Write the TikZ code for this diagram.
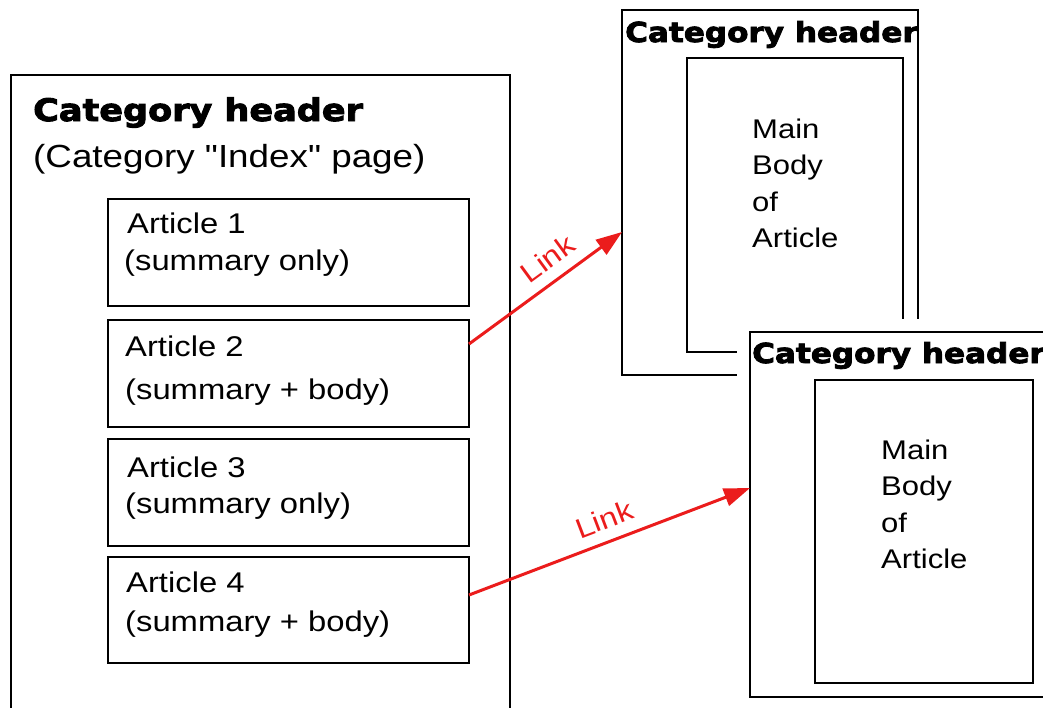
\documentclass[tikz,border=0pt]{standalone}
\usepackage{fontspec}
\setmainfont{Liberation Sans}[FakeStretch=1.15, Ligatures=TeXOff]
\newfontfamily\headfont{DejaVu Sans Bold}[FakeStretch=1.13,FakeBold=3]
\usetikzlibrary{arrows.meta}
\definecolor{linkred}{RGB}{235,28,28}

\begin{document}
\begin{tikzpicture}[x=1pt,y=-1pt,
	box/.style={draw, line width=2.8pt, anchor=north west, inner sep=0pt, outer sep=0pt},
	hdr/.style={anchor=base west, inner sep=0pt, font=\headfont\fontsize{27.5}{33}\selectfont},
	txt/.style={anchor=base west, inner sep=0pt, font=\fontsize{28.5}{34}\selectfont},
	bodytxt/.style={anchor=north west, inner sep=0pt, align=left, font=\fontsize{27}{36.5}\selectfont},
	link/.style={linkred, line width=3pt, -{Triangle[length=26pt,width=18pt]}},
	linklabel/.style={linkred, sloped, above, inner sep=11pt, font=\fontsize{28}{32}\selectfont}]
	\clip (0,0) rectangle (1043,707);
	% index page
	\node[box, minimum width=499pt, minimum height=660pt] (main) at (11,75) {};
	\node[hdr, font=\headfont\fontsize{31}{37}\selectfont] (mainhdr) at (33,121) {Category header};
	\node[txt, font=\fontsize{32}{38}\selectfont] (subhdr) at (33,167) {(Category "Index" page)};
	\node[box, minimum width=361pt, minimum height=107pt] (art1) at (108,199) {};
	\node[box, minimum width=361pt, minimum height=107pt] (art2) at (108,320) {};
	\node[box, minimum width=361pt, minimum height=107pt] (art3) at (108,439) {};
	\node[box, minimum width=361pt, minimum height=106pt] (art4) at (108,557) {};
	\node[txt] (art1a) at (127,233) {Article 1};
	\node[txt] (art1b) at (124,270) {(summary only)};
	\node[txt] (art2a) at (125,356) {Article 2};
	\node[txt] (art2b) at (125,399) {(summary + body)};
	\node[txt] (art3a) at (127,477) {Article 3};
	\node[txt] (art3b) at (125,513) {(summary only)};
	\node[txt] (art4a) at (126,592) {Article 4};
	\node[txt] (art4b) at (125,631) {(summary + body)};
	% article pages
	\node[box, minimum width=296pt, minimum height=365pt] (page1) at (622,10) {};
	\node[hdr] (page1hdr) at (625,42) {Category header};
	\node[box, minimum width=216pt, minimum height=294pt] (body1) at (687,58) {};
	\node[bodytxt] (body1txt) at (752,118.7) {Main\\Body\\of\\Article};
	\node[box, minimum width=330pt, minimum height=365pt, fill=white, preaction={draw=white, line width=26pt}] (page2) at (750,332) {};
	\node[hdr] (page2hdr) at (752,363) {Category header};
	\node[box, minimum width=218pt, minimum height=303pt] (body2) at (815,380) {};
	\node[bodytxt] (body2txt) at (881,439.7) {Main\\Body\\of\\Article};
	% links
	\draw[link] ([yshift=29.5pt]art2.east) -- node[linklabel, pos=0.6] (link1) {Link} ([yshift=-39.5pt]page1.west);
	\draw[link] ([yshift=15pt]art4.east) -- node[linklabel, pos=0.51] (link2) {Link} ([yshift=26.5pt]page2.west);
\end{tikzpicture}
\end{document}
